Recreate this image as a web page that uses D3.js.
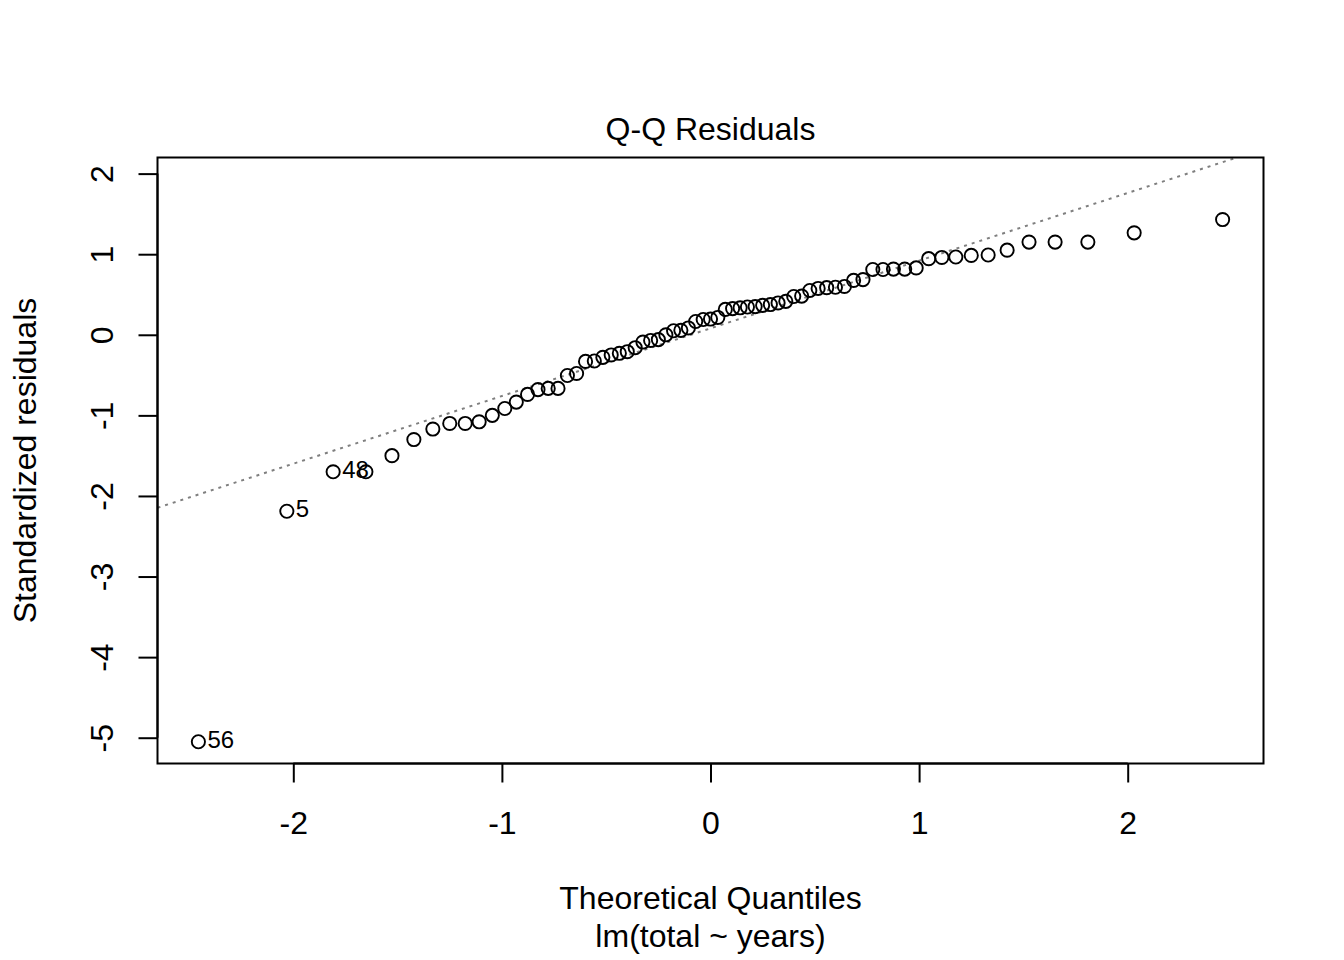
<!DOCTYPE html>
<html>
<head>
<meta charset="utf-8">
<script src="https://cdn.jsdelivr.net/npm/d3@7"></script>
<style>
  html, body { margin: 0; padding: 0; background: #fff; }
  svg text { font-family: "Liberation Sans", Arial, Helvetica, sans-serif; fill: #000; }
</style>
</head>
<body>
<svg id="chart" width="1344" height="960"></svg>
<script>
// Theoretical normal quantiles (x) for the 71 sorted residuals
const quantiles = [
  -2.455, -2.031, -1.809, -1.652, -1.527, -1.422, -1.331, -1.250, -1.176, -1.109,
  -1.046, -0.986, -0.931, -0.877, -0.827, -0.778, -0.731, -0.686, -0.642, -0.599,
  -0.557, -0.516, -0.476, -0.437, -0.399, -0.361, -0.324, -0.287, -0.250, -0.214,
  -0.177, -0.142, -0.106, -0.071, -0.035, 0.000, 0.035, 0.071, 0.106, 0.142,
  0.177, 0.214, 0.250, 0.287, 0.324, 0.361, 0.399, 0.437, 0.476, 0.516,
  0.557, 0.599, 0.642, 0.686, 0.731, 0.778, 0.827, 0.877, 0.931, 0.986,
  1.046, 1.109, 1.176, 1.250, 1.331, 1.422, 1.527, 1.652, 1.809, 2.031,
  2.455
];
// Sorted standardized residuals (y)
const residuals = [
  -5.05, -2.19, -1.70, -1.70, -1.50, -1.30, -1.17, -1.10, -1.10, -1.08,
  -1.00, -0.915, -0.835, -0.74, -0.68, -0.665, -0.665, -0.505, -0.48, -0.33,
  -0.325, -0.28, -0.25, -0.23, -0.21, -0.16, -0.09, -0.07, -0.06, 0.00,
  0.05, 0.055, 0.085, 0.165, 0.19, 0.195, 0.215, 0.315, 0.325, 0.335,
  0.345, 0.35, 0.365, 0.375, 0.395, 0.415, 0.475, 0.48, 0.55, 0.575,
  0.585, 0.59, 0.60, 0.675, 0.685, 0.81, 0.81, 0.815, 0.815, 0.83,
  0.945, 0.96, 0.965, 0.985, 0.99, 1.05, 1.15, 1.15, 1.15, 1.265,
  1.43
];
// Labels of the three most extreme points (index into sorted arrays)
const labelIndex = [0, 1, 2];
const labelText = ["56", "5", "48"];
// Reference line (qqline) intercept and slope
const lineIntercept = 0.08;
const lineSlope = 0.84;
// Axis ticks
const xTicks = [-2, -1, 0, 1, 2];
const yTicks = [-5, -4, -3, -2, -1, 0, 1, 2];
const titleText = "Q-Q Residuals";
const xLabel = "Theoretical Quantiles";
const subLabel = "lm(total ~ years)";
const yLabel = "Standardized residuals";

const svg = d3.select("#chart");
const L = 157.5, R = 1263.5, T = 157.5, B = 763.5;

const x = d3.scaleLinear().domain([-2.651, 2.651]).range([L, R]);
const y = d3.scaleLinear().domain([-5.32, 2.20]).range([B, T]);

// clip for qqline
svg.append("defs").append("clipPath").attr("id", "plotclip")
  .append("rect").attr("x", L).attr("y", T).attr("width", R - L).attr("height", B - T);

// qqline
const xd = x.domain();
svg.append("line")
  .attr("clip-path", "url(#plotclip)")
  .attr("x1", x(xd[0])).attr("y1", y(lineIntercept + lineSlope * xd[0]))
  .attr("x2", x(xd[1])).attr("y2", y(lineIntercept + lineSlope * xd[1]))
  .attr("stroke", "#7f7f7f").attr("stroke-width", 2)
  .attr("stroke-dasharray", "3,5");

// points
const pts = quantiles.map((q, i) => ({ q, r: residuals[i] }));
svg.append("g").selectAll("circle").data(pts).join("circle")
  .attr("cx", d => x(d.q)).attr("cy", d => y(d.r)).attr("r", 6.6)
  .attr("fill", "none").attr("stroke", "#000").attr("stroke-width", 1.9);

// point labels
svg.append("g").selectAll("text").data(labelIndex).join("text")
  .attr("x", i => x(quantiles[i]) + 9)
  .attr("y", i => y(residuals[i]))
  .attr("dy", "0.25em")
  .attr("font-size", 24)
  .text((i, k) => labelText[k]);

// box
svg.append("rect").attr("x", L).attr("y", T).attr("width", R - L).attr("height", B - T)
  .attr("fill", "none").attr("stroke", "#000").attr("stroke-width", 2);

// x axis
const xAxis = d3.axisBottom(x).tickValues(xTicks).tickSize(19).tickPadding(0)
  .tickFormat(d => d < 0 ? "-" + Math.abs(d) : String(d));
const gx = svg.append("g").attr("transform", `translate(0,${B})`).call(xAxis);
gx.select(".domain").attr("d", `M${x(xTicks[0])},0H${x(xTicks[xTicks.length - 1])}`)
  .attr("stroke", "#000").attr("stroke-width", 2);
gx.selectAll(".tick line").attr("stroke", "#000").attr("stroke-width", 2);
gx.selectAll(".tick text").attr("font-size", 32).attr("fill", "#000")
  .attr("font-family", "Liberation Sans, Arial, sans-serif")
  .attr("y", 70).attr("dy", 0);

// y axis
const yAxis = d3.axisLeft(y).tickValues(yTicks).tickSize(19).tickPadding(0)
  .tickFormat(d => d < 0 ? "-" + Math.abs(d) : String(d));
const gy = svg.append("g").attr("transform", `translate(${L},0)`).call(yAxis);
gy.select(".domain").attr("d", `M0,${y(yTicks[0])}V${y(yTicks[yTicks.length - 1])}`)
  .attr("stroke", "#000").attr("stroke-width", 2);
gy.selectAll(".tick line").attr("stroke", "#000").attr("stroke-width", 2);
gy.selectAll(".tick text").attr("font-size", 32).attr("fill", "#000")
  .attr("font-family", "Liberation Sans, Arial, sans-serif")
  .attr("x", null).attr("dy", null)
  .attr("text-anchor", "middle")
  .attr("transform", "translate(-45,0) rotate(-90)");

// titles
svg.append("text").attr("x", (L + R) / 2).attr("y", 140).attr("text-anchor", "middle")
  .attr("font-size", 32).text(titleText);
svg.append("text").attr("x", (L + R) / 2).attr("y", 909).attr("text-anchor", "middle")
  .attr("font-size", 32).text(xLabel);
svg.append("text").attr("x", (L + R) / 2).attr("y", 947).attr("text-anchor", "middle")
  .attr("font-size", 32).text(subLabel);
svg.append("text").attr("text-anchor", "middle")
  .attr("transform", `translate(36,${(T + B) / 2}) rotate(-90)`)
  .attr("font-size", 32).text(yLabel);
</script>
</body>
</html>
